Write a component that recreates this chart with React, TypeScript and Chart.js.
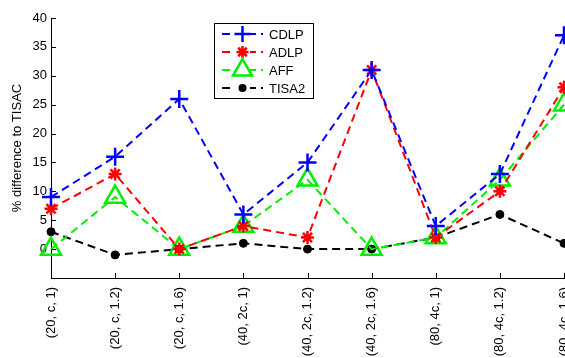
import React, { useEffect, useRef } from "react";
import { Chart, registerables } from "chart.js";

Chart.register(...registerables);

const categories = [
  "(20, c, 1)",
  "(20, c, 1.2)",
  "(20, c, 1.6)",
  "(40, 2c, 1)",
  "(40, 2c, 1.2)",
  "(40, 2c, 1.6)",
  "(80, 4c, 1)",
  "(80, 4c, 1.2)",
  "(80, 4c, 1.6)",
];
const cdlp = [9, 16, 26, 6, 15, 31, 4, 13, 37];
const adlp = [7, 13, 0, 4, 2, 31, 2, 10, 28];
const aff = [0, 9, 0, 4, 12, 0, 2, 12, 25];
const tisa2 = [3, -1, 0, 1, 0, 0, 2, 6, 1];
const yTickValues = [0, 5, 10, 15, 20, 25, 30, 35, 40];

const FONT = "'Liberation Sans', Arial, sans-serif";

const seriesStyles = [
  { label: "CDLP", data: cdlp, color: "#0000ff", pointStyle: "cross", radius: 9, bw: 2.5, fill: "rgba(0,0,0,0)", lr: 8 },
  { label: "ADLP", data: adlp, color: "#ff0000", pointStyle: "star", radius: 6.5, bw: 2.5, fill: "rgba(0,0,0,0)", lr: 6 },
  { label: "AFF", data: aff, color: "#00ee00", pointStyle: "triangle", radius: 11.5, bw: 2.5, fill: "rgba(0,0,0,0)", lr: 11 },
  { label: "TISA2", data: tisa2, color: "#000000", pointStyle: "circle", radius: 4, bw: 1, fill: "#000000", lr: 4 },
];

const axisTicksPlugin = {
  id: "inTicks",
  afterDatasetsDraw(chart: any) {
    const { ctx, chartArea, scales } = chart;
    ctx.save();
    ctx.strokeStyle = "#000";
    ctx.lineWidth = 1;
    ctx.beginPath();
    const x = scales.x;
    for (let i = 0; i < categories.length; i++) {
      const px = Math.round(x.getPixelForValue(i)) + 0.5;
      ctx.moveTo(px, chartArea.bottom);
      ctx.lineTo(px, chartArea.bottom - 5);
    }
    const y = scales.y;
    for (const v of yTickValues) {
      const py = Math.round(y.getPixelForValue(v)) + 0.5;
      ctx.moveTo(chartArea.left, py);
      ctx.lineTo(chartArea.left + 5, py);
    }
    ctx.stroke();
    ctx.restore();
  },
};

function drawMarker(ctx: CanvasRenderingContext2D, style: string, r: number, x: number, y: number) {
  ctx.beginPath();
  if (style === "cross") {
    ctx.moveTo(x - r, y);
    ctx.lineTo(x + r, y);
    ctx.moveTo(x, y - r);
    ctx.lineTo(x, y + r);
    ctx.stroke();
  } else if (style === "star") {
    for (let k = 0; k < 4; k++) {
      const a = (k * Math.PI) / 4;
      ctx.moveTo(x - Math.cos(a) * r, y - Math.sin(a) * r);
      ctx.lineTo(x + Math.cos(a) * r, y + Math.sin(a) * r);
    }
    ctx.stroke();
  } else if (style === "triangle") {
    for (let k = 0; k < 3; k++) {
      const a = (k * 2 * Math.PI) / 3;
      const px = x + Math.sin(a) * r;
      const py = y - Math.cos(a) * r;
      if (k === 0) ctx.moveTo(px, py);
      else ctx.lineTo(px, py);
    }
    ctx.closePath();
    ctx.stroke();
  } else {
    ctx.arc(x, y, r, 0, Math.PI * 2);
    ctx.fill();
  }
}

const legendPlugin = {
  id: "boxLegend",
  afterDraw(chart: any) {
    const { ctx } = chart;
    ctx.save();
    const bx = 214.5, by = 23.5, bw = 99, bh = 75;
    ctx.fillStyle = "#fff";
    ctx.fillRect(bx, by, bw, bh);
    ctx.strokeStyle = "#000";
    ctx.lineWidth = 1;
    ctx.strokeRect(bx, by, bw, bh);
    const rows = [34, 52, 70, 88];
    seriesStyles.forEach((s, i) => {
      const yy = rows[i];
      ctx.strokeStyle = s.color;
      ctx.lineWidth = 2;
      ctx.setLineDash([8, 5]);
      ctx.beginPath();
      ctx.moveTo(222, yy);
      ctx.lineTo(263, yy);
      ctx.stroke();
      ctx.setLineDash([]);
      ctx.fillStyle = "#fff";
      ctx.fillRect(234, yy - 3, 16, 6);
      ctx.lineWidth = s.bw;
      ctx.strokeStyle = s.color;
      ctx.fillStyle = s.fill;
      drawMarker(ctx, s.pointStyle, s.lr, 242.5, yy);
      ctx.fillStyle = "#000";
      ctx.font = `13px ${FONT}`;
      ctx.textBaseline = "middle";
      ctx.textAlign = "left";
      ctx.fillText(s.label, 269, yy + 1);
    });
    ctx.restore();
  },
};

export default function App() {
  const ref = useRef<HTMLCanvasElement | null>(null);
  useEffect(() => {
    document.body.style.margin = "0";
    const canvas = ref.current!;
    const chart = new Chart(canvas, {
      type: "line",
      data: {
        labels: categories,
        datasets: seriesStyles.map((s) => ({
          label: s.label,
          data: s.data,
          borderColor: s.color,
          backgroundColor: s.fill,
          borderWidth: 2,
          borderDash: [8, 5],
          pointStyle: s.pointStyle as any,
          pointRadius: s.radius,
          pointBorderWidth: s.bw,
          pointBorderColor: s.color,
          pointBackgroundColor: s.fill,
          fill: false,
          tension: 0,
          clip: false as any,
        })),
      },
      options: {
        responsive: false,
        animation: false,
        events: [],
        layout: { autoPadding: false, padding: { top: 18, right: 1, left: 0, bottom: 0 } },
        plugins: {
          legend: { display: false },
          tooltip: { enabled: false },
        },
        scales: {
          x: {
            type: "category",
            offset: false,
            grid: { display: false, drawTicks: false },
            border: { display: true, color: "#000", width: 1 },
            ticks: {
              autoSkip: false,
              maxRotation: 90,
              minRotation: 90,
              padding: 9,
              color: "#000",
              font: { family: FONT, size: 13 },
            },
            afterFit(scale: any) {
              scale.height = 80;
              scale.paddingLeft = 0;
              scale.paddingRight = 0;
            },
          },
          y: {
            min: -5,
            max: 40,
            grid: { display: false, drawTicks: false },
            border: { display: true, color: "#000", width: 1 },
            ticks: {
              stepSize: 5,
              padding: 4,
              color: "#000",
              font: { family: FONT, size: 13 },
              callback: (v: any) => (v < 0 ? "" : String(v)),
            },
            title: {
              display: true,
              text: "% difference to TISAC",
              color: "#000",
              font: { family: FONT, size: 13 },
              padding: { top: 10, bottom: 0 },
            },
            afterFit(scale: any) {
              scale.width = 51;
              scale.paddingTop = 0;
              scale.paddingBottom = 0;
            },
          },
        },
      },
      plugins: [axisTicksPlugin, legendPlugin],
    });
    return () => chart.destroy();
  }, []);
  return <canvas ref={ref} width={565} height={358} style={{ display: "block" }} />;
}
